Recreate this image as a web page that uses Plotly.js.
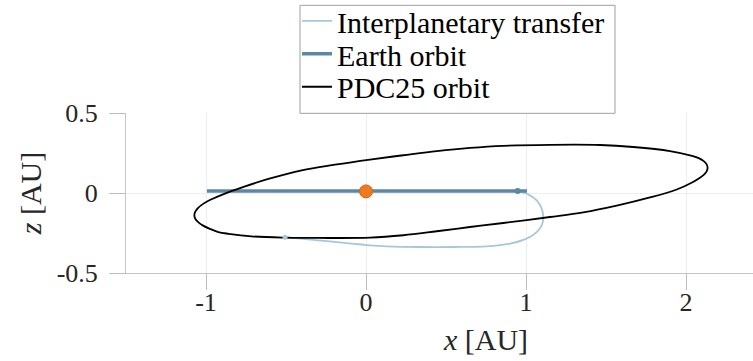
<!DOCTYPE html>
<html>
<head>
<meta charset="utf-8">
<script src="https://cdn.plot.ly/plotly-3.0.1.min.js"></script>
<style>
html, body { margin: 0; padding: 0; overflow: hidden; background: #fff; }
#chart { width: 846px; height: 361px; }
</style>
</head>
<body>
<div id="chart"></div>
<script>
// Interplanetary transfer (x, z in AU)
const transferX = [-0.506, -0.298, -0.09, 0.025, 0.129, 0.3375, 0.546, 0.754, 0.9, 1.004, 1.067, 1.098, 1.108, 1.098, 1.067, 1.004, 0.948];
const transferZ = [-0.276, -0.296, -0.316, -0.327, -0.333, -0.3375, -0.3375, -0.333, -0.316, -0.285, -0.244, -0.202, -0.154, -0.098, -0.046, -0.004, 0.0125];

// Earth orbit (seen edge-on)
const earthX = [-0.994, -0.5, 0, 0.5, 1.006];
const earthZ = [0.012, 0.012, 0.012, 0.013, 0.013];

// PDC25 orbit
const pdcX = [-1.073, -1.067, -1.049, -1.018, -0.976, -0.858, -0.756, -0.610, -0.402, -0.194, 0.025, 0.233, 0.442, 0.65, 0.858, 1.15, 1.4625, 1.67, 1.90, 2.038, 2.08, 2.111, 2.129, 2.135,
              2.129, 2.111, 2.080, 2.038, 1.942, 1.775, 1.567, 1.358, 1.15, 0.858, 0.65, 0.442, 0.233, 0.025, -0.298, -0.506, -0.715, -0.858, -0.923, -0.976, -1.018, -1.049, -1.067, -1.073];
const pdcZ = [-0.139, -0.116, -0.093, -0.068, -0.044, 0.006, 0.042, 0.088, 0.142, 0.177, 0.209, 0.236, 0.262, 0.282, 0.295, 0.301, 0.300, 0.2875, 0.262, 0.232, 0.218, 0.199, 0.179, 0.158,
              0.135, 0.113, 0.091, 0.066, 0.022, -0.028, -0.079, -0.121, -0.150, -0.1875, -0.2125, -0.239, -0.264, -0.279, -0.281, -0.279, -0.271, -0.255, -0.244, -0.224, -0.204, -0.182, -0.161, -0.139];

// Markers
const sunX = [0], sunZ = [0.01];
const earthPosX = [0.948], earthPosZ = [0.0125];
const transferStartX = [-0.506], transferStartZ = [-0.276];

// Ticks
const xTickVals = [-1, 0, 1, 2];
const xTickText = ['-1', '0', '1', '2'];
const yTickVals = [-0.5, 0, 0.5];
const yTickText = ['-0.5', '0', '0.5'];

const cTransfer = '#a8c7db';
const cEarth = '#5b88a5';
const cPdc = '#000000';
const font = 'Liberation Serif';

const traces = [
  {x: transferX, y: transferZ, mode: 'lines', name: 'Interplanetary transfer', legend: 'legend',
   line: {color: cTransfer, width: 1.8, shape: 'spline'}},
  {x: earthX, y: earthZ, mode: 'lines', name: 'Earth orbit', legend: 'legend2',
   line: {color: cEarth, width: 3.5}},
  {x: pdcX, y: pdcZ, mode: 'lines', name: 'PDC25 orbit', legend: 'legend3',
   line: {color: cPdc, width: 1.8, shape: 'spline', smoothing: 1}},
  {x: transferStartX, y: transferStartZ, mode: 'markers', showlegend: false,
   marker: {color: cTransfer, size: 5}},
  {x: earthPosX, y: earthPosZ, mode: 'markers', showlegend: false,
   marker: {color: cEarth, size: 6}},
  {x: sunX, y: sunZ, mode: 'markers', showlegend: false,
   marker: {color: '#ee7b22', size: 13, line: {color: '#d8630e', width: 1}}}
];

const axisCommon = {
  showgrid: true, gridcolor: '#eeeeee', gridwidth: 1,
  zeroline: false, showline: true, linecolor: '#c4c4c4', linewidth: 1,
  ticks: 'outside', ticklen: 16, tickcolor: '#bdbdbd', tickwidth: 1,
  tickfont: {family: font, size: 26, color: '#262626'},
  tickmode: 'array'
};

function legendRow(y) {
  return {
    x: 0.2375, y: y, xanchor: 'left', yanchor: 'middle',
    bgcolor: 'rgba(0,0,0,0)', borderwidth: 0,
    font: {family: font, size: 30, color: '#000000'},
    itemwidth: 30
  };
}

const layout = {
  width: 846, height: 361,
  margin: {l: 126, r: 0, t: 112.7, b: 88.3, autoexpand: false},
  paper_bgcolor: '#ffffff', plot_bgcolor: '#ffffff',
  showlegend: true,
  xaxis: Object.assign({}, axisCommon, {
    range: [-1.5, 3], tickvals: xTickVals, ticktext: xTickText,
    ticklabelstandoff: -10,
    title: {text: '<i>x</i> [AU]', font: {family: font, size: 30, color: '#262626'}, standoff: 12}
  }),
  yaxis: Object.assign({}, axisCommon, {
    range: [-0.5, 0.5], tickvals: yTickVals, ticktext: yTickText,
    ticklabelstandoff: 6,
    title: {text: '<i>z</i> [AU]', font: {family: font, size: 30, color: '#262626'}, standoff: 6}
  }),
  shapes: [{
    type: 'rect', xref: 'paper', yref: 'paper',
    x0: 0.2417, x1: 0.6792, y0: 0.998, y1: 1.673,
    line: {color: '#a0a0a0', width: 1}, fillcolor: '#ffffff', layer: 'above'
  }],
  legend: legendRow(1.576),
  legend2: legendRow(1.370),
  legend3: legendRow(1.164)
};

Plotly.newPlot('chart', traces, layout, {displayModeBar: false, staticPlot: true});
</script>
</body>
</html>
